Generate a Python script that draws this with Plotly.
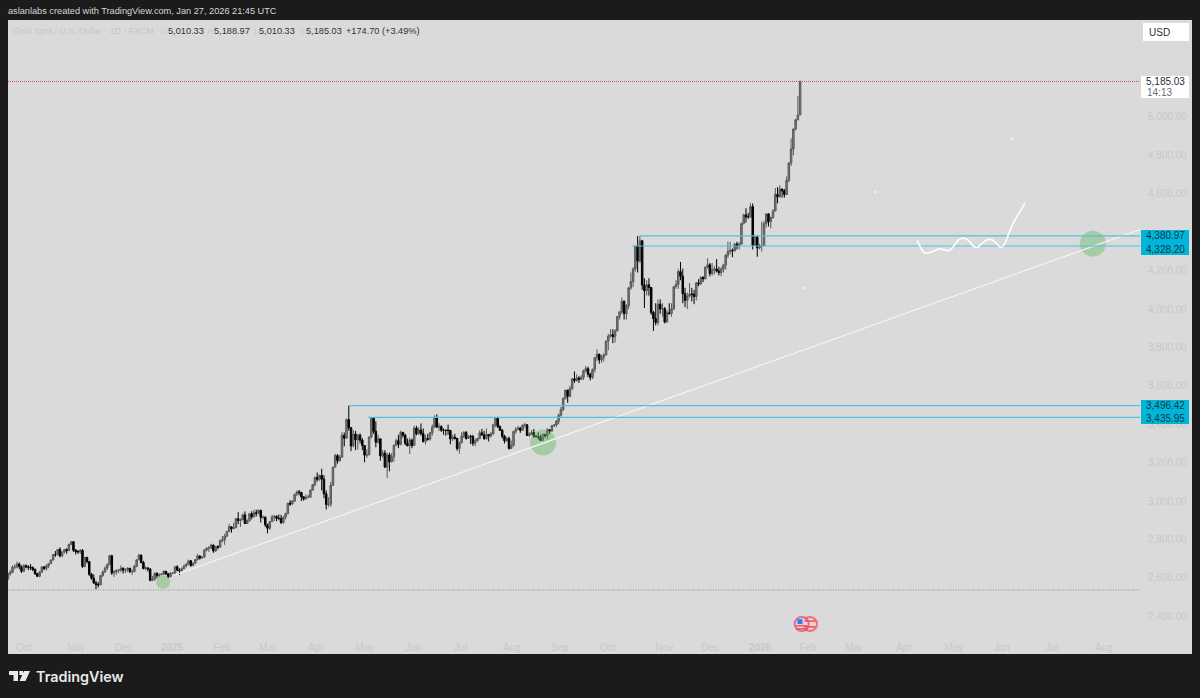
import plotly.graph_objects as go

# --- chart data, one row per month (Sep 2024 ... Jan 2026) ---
closes = [
 2621,2628,2657,2657,2672,2658,2634,
 2663,2657,2656,2653,2643,2622,2608,2630,2657,2649,2663,2674,2693,2721,2720,2748,2714,2735,2747,2742,2774,2788,2744,
 2736,2736,2743,2659,2706,2685,2619,2598,2573,2565,2563,2612,2631,2651,2670,2715,2625,2632,2638,2640,2650,
 2640,2643,2650,2632,2633,2660,2694,2718,2680,2648,2652,2646,2587,2594,2622,2612,2618,2620,2634,2621,2606,2624,
 2625,2658,2640,2637,2648,2662,2670,2689,2664,2677,2695,2714,2703,2708,2745,2755,2755,2771,2740,2763,2760,2794,2798,
 2817,2842,2866,2856,2861,2908,2898,2903,2928,2883,2898,2934,2918,2939,2936,2952,2915,2916,2876,2858,
 2893,2917,2920,2910,2909,2888,2916,2934,2989,2984,3000,3035,3047,3045,3022,3011,3020,3020,3057,3085,3122,
 3113,3133,3114,3038,2982,2983,3082,3177,3237,3210,3229,3342,3327,3424,3381,3287,3349,3319,3343,3317,3289,
 3239,3240,3334,3431,3363,3306,3324,3235,3250,3177,3240,3204,3230,3290,3314,3295,3358,3343,3301,3288,3317,3289,
 3380,3350,3370,3352,3310,3326,3322,3355,3386,3433,3385,3388,3369,3369,3368,3368,3323,3332,3327,3274,3303,
 3338,3357,3326,3337,3336,3301,3313,3325,3355,3344,3324,3347,3339,3350,3397,3431,3387,3368,3337,3314,3326,3274,3290,
 3363,3373,3380,3368,3396,3397,3341,3348,3356,3336,3336,3332,3315,3347,3339,3371,3365,3393,3396,3416,3447,
 3476,3533,3578,3546,3586,3636,3627,3641,3634,3643,3678,3689,3660,3644,3685,3746,3764,3735,3749,3760,3833,3859,
 3866,3856,3886,3961,3985,4040,3976,4017,4110,4143,4208,4327,4250,4355,4125,4095,4126,4112,3982,3950,3930,4025,4000,
 4002,3932,3980,3977,4000,4116,4128,4195,4171,4080,4045,4067,4078,4077,4065,4136,4132,4165,4157,4218,
 4230,4185,4205,4208,4198,4190,4208,4228,4280,4300,4305,4303,4338,4330,4338,4445,4490,4480,4480,4533,4332,4375,4318,
 4330,4330,4445,4495,4455,4477,4510,4597,4585,4625,4615,4596,4670,4760,4833,4937,4985,5010.33,5185.03,
]
highs = [
 2626,2640,2665,2671,2685,2680,2665,
 2672,2670,2666,2672,2660,2650,2625,2634,2660,2660,2670,2678,2696,2723,2740,2749,2759,2737,2750,2755,2778,2790,2790,
 2750,2745,2750,2750,2710,2710,2685,2625,2618,2585,2578,2615,2638,2660,2675,2720,2720,2640,2645,2645,2665,
 2655,2650,2655,2652,2645,2668,2697,2726,2722,2688,2660,2650,2650,2610,2630,2630,2623,2624,2640,2636,2625,2630,
 2628,2660,2665,2650,2655,2670,2678,2695,2692,2680,2698,2725,2716,2712,2748,2760,2765,2778,2772,2766,2770,2800,2818,
 2830,2845,2882,2870,2887,2910,2942,2910,2935,2946,2905,2938,2947,2955,2955,2956,2953,2925,2920,2882,
 2895,2928,2928,2925,2930,2928,2920,2940,2990,3005,3002,3038,3055,3058,3048,3025,3035,3033,3060,3088,3128,
 3149,3138,3168,3135,3055,3020,3100,3178,3246,3245,3240,3358,3357,3430,3496.42,3386,3370,3365,3350,3352,3328,
 3290,3270,3335,3437,3416,3415,3345,3325,3265,3265,3252,3252,3250,3295,3325,3345,3366,3358,3350,3325,3330,3325,
 3392,3392,3385,3404,3378,3345,3350,3360,3398,3446,3452,3405,3395,3378,3370,3398,3370,3345,3350,3328,3310,
 3358,3365,3365,3345,3345,3345,3325,3330,3368,3375,3365,3378,3345,3360,3402,3434,3439,3395,3375,3345,3335,3335,3315,
 3365,3385,3392,3385,3398,3408,3400,3358,3370,3375,3345,3358,3345,3352,3350,3380,3375,3392,3400,3422,3455,
 3490,3540,3578,3565,3600,3640,3675,3660,3650,3655,3685,3703,3700,3668,3690,3750,3790,3768,3762,3770,3835,3870,
 3895,3895,3895,3962,3990,4060,4045,4025,4115,4190,4218,4330,4380,4382,4360,4160,4150,4160,4098,3990,4030,4050,4050,
 4030,4010,3995,4030,4030,4120,4150,4208,4245,4210,4110,4085,4135,4110,4100,4140,4155,4170,4170,4220,
 4265,4240,4240,4225,4260,4220,4218,4235,4285,4350,4350,4315,4345,4350,4348,4450,4497,4525,4500,4550,4550,4380,4385,
 4340,4455,4460,4500,4500,4480,4520,4630,4635,4645,4625,4625,4690,4765,4888,4940,4990,5110,5188.97,
]
lows = [
 2586,2612,2625,2645,2650,2645,2625,
 2630,2650,2640,2640,2635,2615,2604,2603,2626,2640,2638,2650,2672,2690,2710,2720,2707,2707,2727,2725,2740,2770,2735,
 2722,2725,2725,2652,2655,2675,2610,2590,2570,2540,2550,2562,2605,2625,2640,2665,2615,2605,2615,2625,2630,
 2622,2625,2630,2625,2615,2628,2655,2692,2675,2645,2640,2632,2582,2583,2585,2598,2605,2615,2615,2615,2597,2603,
 2620,2622,2635,2615,2635,2645,2655,2668,2657,2662,2672,2690,2695,2700,2705,2738,2735,2750,2730,2735,2748,2755,2785,
 2772,2812,2840,2835,2854,2860,2880,2865,2900,2880,2882,2892,2905,2915,2920,2930,2888,2905,2865,2832,
 2850,2890,2895,2895,2900,2880,2882,2905,2930,2975,2982,2995,3025,3030,3000,3002,3008,3015,3016,3055,3076,
 3100,3105,3055,3015,2956,2970,2970,3080,3175,3195,3205,3225,3285,3330,3366,3260,3280,3265,3268,3300,3265,
 3202,3225,3240,3325,3350,3280,3300,3210,3225,3172,3120,3155,3205,3205,3285,3275,3290,3330,3290,3285,3245,3275,
 3290,3342,3345,3340,3305,3294,3315,3315,3340,3380,3380,3365,3360,3345,3340,3345,3295,3312,3320,3262,3247,
 3300,3328,3320,3325,3296,3287,3285,3310,3322,3340,3320,3320,3310,3330,3345,3385,3380,3365,3325,3300,3308,3268,3270,
 3282,3350,3372,3355,3365,3380,3340,3335,3345,3330,3330,3320,3312,3312,3330,3320,3350,3360,3385,3385,3400,
 3440,3468,3530,3512,3540,3578,3615,3622,3615,3630,3630,3670,3645,3628,3635,3670,3730,3715,3720,3725,3760,3785,
 3850,3822,3825,3885,3945,3975,3945,3945,4000,4100,4115,4195,4190,4240,4100,4005,4070,4070,3970,3886,3915,3915,3975,
 3960,3925,3930,3970,3960,3995,4105,4105,4150,4030,4010,4000,4060,4040,4025,4045,4118,4125,4140,4155,
 4210,4170,4175,4180,4190,4175,4170,4190,4205,4265,4285,4270,4300,4310,4310,4340,4440,4450,4470,4475,4310,4330,4272,
 4310,4300,4330,4425,4430,4420,4470,4510,4550,4580,4580,4580,4600,4660,4745,4800,4930,4985,5010.33,
]
first_open = 2596
assert len(closes) == len(highs) == len(lows), (len(closes), len(highs), len(lows))
bars = list(range(len(closes)))
# each session opens where the previous one closed on this spot chart
opens = [first_open] + closes[:-1]

price_ticks = [2400, 2600, 2800, 3000, 3200, 3400, 3600, 3800, 4000, 4200, 4600, 4800, 5000]
month_labels = ["Oct","Nov","Dec","<b>2025</b>","Feb","Mar","Apr","May","Jun","Jul","Aug","Sep","Oct","Nov","Dec","<b>2026</b>","Feb","Mar","Apr","May","Jun","Jul","Aug"]
month_bars = [7.1,30.1,51.4,72.7,94.8,115.2,136.5,158.2,179.5,200.6,223.3,244.6,265.8,290.7,311.1,333.2,354.4,374.8,397,419.2,440.4,462.6,485.6]

x_end = 501.6
last_price = 5185.03
low_line = 2537
levels = [3496.42, 3435.95, 4380.97, 4328.20]
level_starts = [151, 159.5, 280, 276.5]
trend_bars = [74, x_end]
trend_prices = [2615, 4414]
circle_bars = [68.7, 237.1, 480.7]
circle_prices = [2578, 3305, 4340]
circle_sizes = [14, 26, 26]
sketch_bars = [402.9,404.1,405.6,407.1,409.3,413,415.2,417.1,418.9,421.1,423.2,425.4,427.7,429.4,431.4,433.9,436.2,438.2,439.9,441.7,443.2,445.4,450.6]
sketch_prices = [4359,4328,4298,4290,4297,4314,4307,4304,4325,4359,4370,4359,4328,4321,4339,4361,4359,4339,4321,4342,4385,4446,4550]
dot_bars = [444.7, 384.1, 352.7]
dot_prices = [4885, 4609, 4109]

W, H = 1200, 698
L, R, T, B = 8, 1140, 20, 632
BG = "#dadada"
DARK = "#1b1b1b"
FONT = "Liberation Sans, Arial, sans-serif"


def px(x):
    return (x - L) / (R - L)


def py(y):
    return (B - y) / (B - T)


def rect(x0, y0, x1, y1, fill, layer="above"):
    return dict(type="rect", xref="paper", yref="paper", x0=px(x0), x1=px(x1), y0=py(y0), y1=py(y1),
                fillcolor=fill, line_width=0, layer=layer)


def poly(points, fill):
    d = "M " + " L ".join(f"{px(a):.5f},{py(b):.5f}" for a, b in points) + " Z"
    return dict(type="path", xref="paper", yref="paper", path=d, fillcolor=fill, line_width=0, layer="above")


def note(x, y, text, size=10, color="#2a2e39", anchor="left", weight=None, family=FONT):
    return dict(xref="paper", yref="paper", x=px(x), y=py(y), text=text, showarrow=False, xanchor=anchor,
                yanchor="middle", font=dict(family=family, size=size, color=color, weight=weight), borderpad=0, borderwidth=0)


fig = go.Figure()

fig.add_trace(go.Scatter(x=circle_bars, y=circle_prices, mode="markers", cliponaxis=False,
                         marker=dict(size=circle_sizes, color="rgba(96,186,93,0.6)", line_width=0)))
fig.add_trace(go.Scatter(x=trend_bars, y=trend_prices, mode="lines", line=dict(color="#f4f4f4", width=1.2)))
fig.add_trace(go.Scatter(x=[0, x_end], y=[low_line, low_line], mode="lines", line=dict(color="#8f8f8f", width=1, dash="1px,1.5px")))
fig.add_trace(go.Scatter(x=[0, x_end], y=[last_price, last_price], mode="lines", line=dict(color="#dc4a4c", width=1, dash="1px,1px")))
for lv, st in zip(levels, level_starts):
    fig.add_trace(go.Scatter(x=[st, x_end], y=[lv, lv], mode="lines", line=dict(color="#4fc0e6", width=1.2)))

fig.add_trace(go.Candlestick(
    x=bars, open=opens, high=highs, low=lows, close=closes,
    increasing=dict(line=dict(color="#585858", width=1), fillcolor="#7c7c7c"),
    decreasing=dict(line=dict(color="#000000", width=1), fillcolor="#000000"),
    whiskerwidth=0,
))

fig.add_trace(go.Scatter(x=sketch_bars, y=sketch_prices, mode="lines",
                         line=dict(color="#ffffff", width=1.6, shape="spline", smoothing=0.8)))
fig.add_trace(go.Scatter(x=dot_bars, y=dot_prices, mode="markers", marker=dict(size=2, color="#ffffff", line_width=0)))

# economic event flag
fig.add_trace(go.Scatter(x=[355.4, 351.7], y=[2359.5, 2359.5], mode="markers", cliponaxis=False,
                         marker=dict(size=[14, 14], color=["#f3c9cf", "#f6dfe2"], line=dict(color=["#ee4f50", "#df3f7c"], width=2))))
fig.add_trace(go.Scatter(x=[350.9], y=[2372], mode="markers", cliponaxis=False,
                         marker=dict(size=5, symbol="square", color="#2f80ed", line_width=0)))
fig.add_trace(go.Scatter(x=[351.7, 351.7, 355.4, 355.4], y=[2335, 2350, 2345, 2375], mode="markers", cliponaxis=False,
                         marker=dict(size=8, symbol="line-ew", color="#ee4f50", line=dict(color="#ee4f50", width=1.5))))

shapes = [
    rect(L, T, 1192, 654, BG, layer="below"),
    rect(1143, 23, 1189, 41, "#ffffff"),
    rect(1141, 76, 1189, 98, "#ffffff"),
    rect(1141, 230, 1189, 255, "#00b5d8"),
    rect(1141, 400, 1189, 424, "#00b5d8"),
    # TradingView mark
    poly([(9, 671), (18, 671), (18, 681), (13.5, 681), (13.5, 675), (9, 675)], "#e9e9e9"),
    poly([(19.3, 671), (23, 671), (23, 675), (19.3, 675)], "#e9e9e9"),
    poly([(24, 671), (30, 671), (25.5, 681), (19.5, 681)], "#e9e9e9"),
]

annotations = [
    note(8, 11, "aslanlabs created with TradingView.com, Jan 27, 2026 21:45 UTC", size=9.2, color="#d8d8d8"),
    note(13, 31, "Gold Spot / U.S. Dollar · 1D · FXCM", size=8.8, color="#c6c6c6"),
    note(161, 31, "O", size=8, color="#c6c6c6"), note(167.5, 31, "5,010.33", size=9.2, color="#333333"),
    note(208, 31, "H", size=8, color="#c6c6c6"), note(214, 31, "5,188.97", size=9.2, color="#333333"),
    note(254, 31, "L", size=8, color="#c6c6c6"), note(259, 31, "5,010.33", size=9.2, color="#333333"),
    note(300, 31, "C", size=8, color="#c6c6c6"), note(306, 31, "5,185.03", size=9.2, color="#333333"),
    note(346, 31, "+174.70 (+3.49%)", size=9.2, color="#333333"),
    note(1149, 32, "USD", size=10, color="#2a2e39"),
    note(1185, 82, "5,185.03", color="#2a2e39", anchor="right"),
    note(1147, 92, "14:13", color="#6a6d78", size=10),
    note(1185, 236, "4,380.97", color="#0b3a4a", anchor="right"),
    note(1185, 249, "4,328.20", color="#0b3a4a", anchor="right"),
    note(1185, 405.5, "3,496.42", color="#0b3a4a", anchor="right"),
    note(1185, 418, "3,435.95", color="#0b3a4a", anchor="right"),
    note(36, 676, "TradingView", size=14.4, color="#e9e9e9", weight=600, family="Inter, Liberation Sans, sans-serif"),
]

fig.update_layout(
    width=W, height=H, margin=dict(l=L, r=W - R, t=T, b=H - B, pad=0, autoexpand=False),
    paper_bgcolor=DARK, plot_bgcolor="rgba(0,0,0,0)", showlegend=False, hovermode=False, boxgap=0.05,
    shapes=shapes, annotations=annotations, font=dict(family=FONT),
    xaxis=dict(range=[0, x_end], rangeslider_visible=False, showgrid=False, zeroline=False, showline=False,
               tickmode="array", tickvals=month_bars, ticktext=month_labels, ticks="outside", ticklen=6,
               tickcolor="rgba(0,0,0,0)", tickangle=0, tickfont=dict(size=10, color="#c8c8c8", family=FONT)),
    yaxis=dict(range=[2318, 5505], side="right", showgrid=False, zeroline=False, showline=False,
               tickmode="array", tickvals=price_ticks, ticktext=[f"{v:,.2f}" for v in price_ticks], ticks="outside",
               ticklen=5, tickcolor="rgba(0,0,0,0)", tickfont=dict(size=10, color="#c8c8c8", family=FONT)),
)

fig.write_html("out.html", config=dict(displayModeBar=False, responsive=False),
               post_script="document.body.style.margin='0';document.body.style.background='#1b1b1b';document.documentElement.style.overflow='hidden';")
